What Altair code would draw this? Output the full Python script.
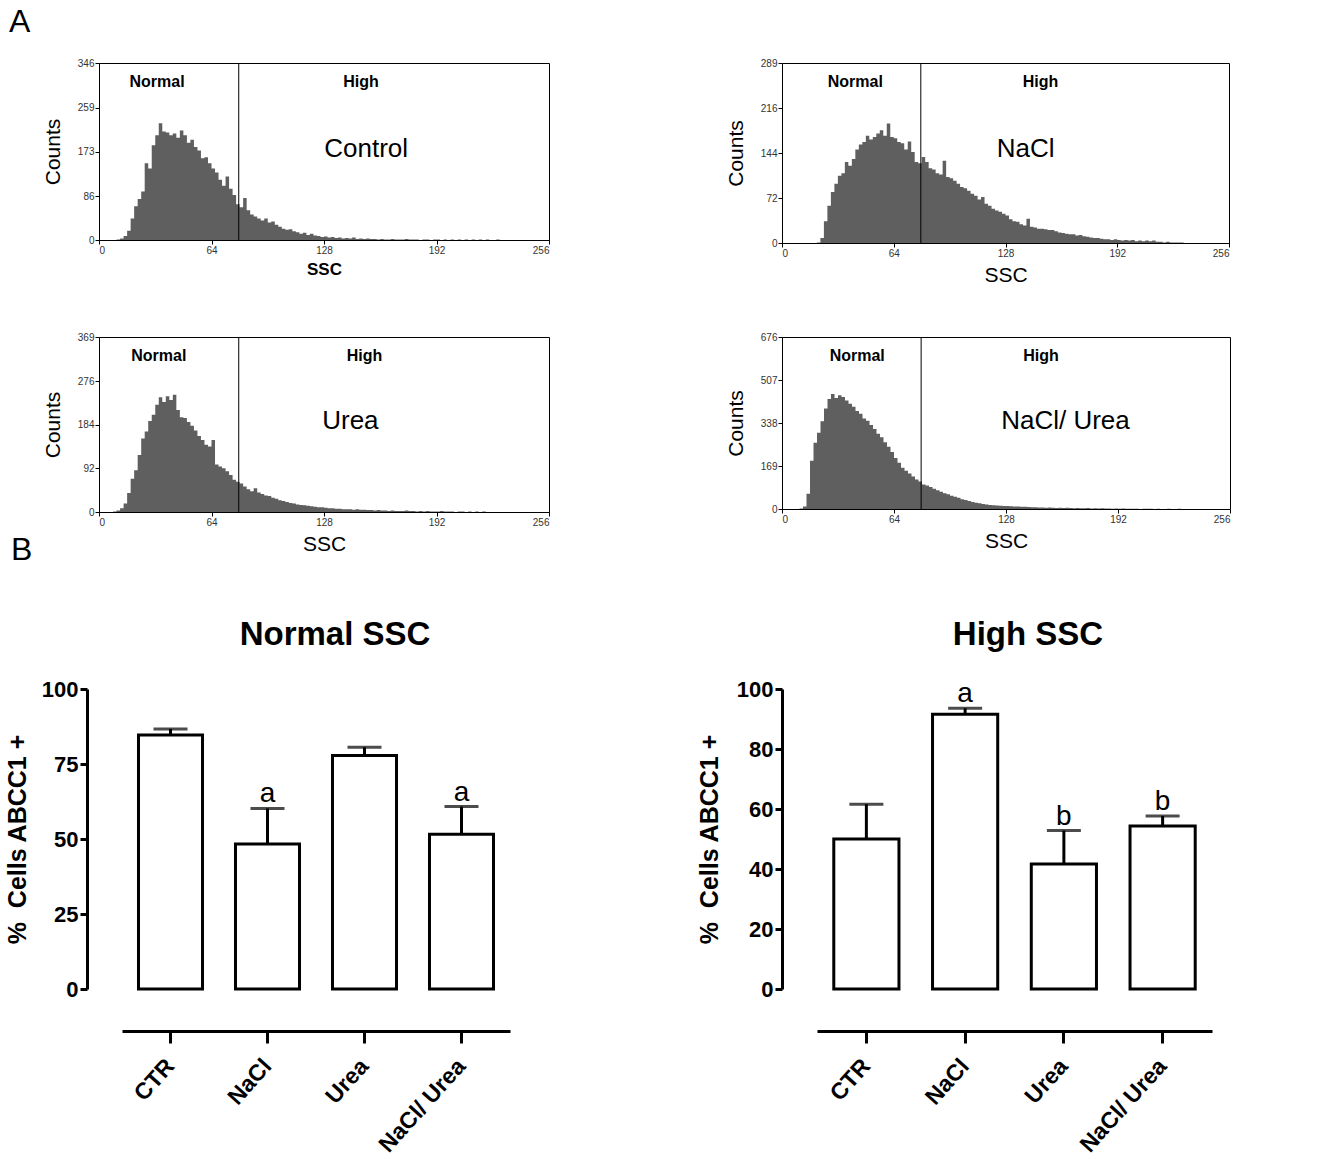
import altair as alt
import pandas as pd

FONT = "Liberation Sans"
HIST_FILL = "#5f5f5f"

# ---------------------------------------------------------------- histograms
# Flow-cytometry side-scatter histograms, counts per 2-channel bin starting at SSC 0
BIN_WIDTH = 2
ssc_ticks = [0, 64, 128, 192, 256]
gate_ssc = 79.5

control_counts = [
    0, 0, 0, 0, 0, 1, 3, 8, 18, 42,
    66, 80, 95, 150, 140, 185, 205, 228, 212, 210,
    205, 208, 200, 214, 205, 190, 196, 182, 175, 160,
    162, 150, 140, 132, 118, 106, 124, 100, 88, 70,
    64, 82, 58, 50, 46, 42, 38, 42, 34, 36,
    30, 26, 22, 20, 21, 17, 15, 12, 14, 10,
    12, 9, 8, 6, 7, 5, 6, 4, 5, 3,
    4, 3, 5, 2, 3, 2, 3, 2, 2, 1,
    2, 1, 1, 2, 1, 1, 1, 2, 1, 1,
    1, 0, 1, 1, 0, 1, 1, 0, 1, 0,
    1, 0, 1, 0, 1, 0, 1, 0, 1, 0,
    1, 0, 0, 1, 0, 0,
]
nacl_counts = [
    0, 0, 0, 0, 0, 0, 0, 0, 0, 0,
    1, 8, 35, 60, 82, 95, 108, 112, 130, 124,
    135, 150, 158, 162, 172, 166, 170, 176, 181, 172,
    192, 170, 168, 162, 160, 150, 163, 146, 130, 128,
    138, 130, 120, 118, 112, 110, 132, 106, 104, 100,
    95, 90, 88, 84, 79, 76, 70, 74, 63, 60,
    55, 52, 50, 47, 44, 38, 35, 34, 30, 28,
    39, 26, 25, 23, 23, 22, 21, 21, 19, 17,
    16, 15, 14, 14, 12, 13, 11, 10, 9, 8,
    8, 7, 6, 6, 5, 6, 5, 4, 5, 4,
    5, 3, 4, 3, 4, 3, 4, 2, 2, 1,
    2, 1, 1, 1, 1, 0,
]
urea_counts = [
    0, 0, 0, 0, 1, 3, 8, 18, 40, 70,
    88, 120, 155, 170, 192, 205, 226, 242, 232, 244,
    236, 247, 215, 200, 198, 190, 182, 172, 160, 152,
    142, 138, 152, 100, 96, 92, 86, 78, 68, 64,
    60, 54, 48, 44, 50, 41, 38, 35, 34, 30,
    28, 25, 23, 21, 19, 18, 16, 15, 14, 13,
    12, 11, 10, 10, 9, 8, 8, 7, 7, 6,
    6, 6, 5, 6, 5, 5, 4, 4, 3, 4,
    3, 3, 2, 3, 2, 2, 2, 3, 2, 2,
    1, 2, 1, 2, 1, 1, 1, 2, 1, 1,
    1, 0, 1, 1, 0, 1, 0, 1, 0, 1,
    0,
]
nacl_urea_counts = [
    0, 0, 0, 0, 0, 2, 10, 60, 190, 260,
    300, 345, 395, 432, 452, 436, 447, 440, 426, 414,
    402, 385, 374, 356, 347, 330, 314, 296, 282, 262,
    245, 224, 200, 182, 162, 150, 140, 128, 116, 108,
    96, 92, 86, 80, 74, 68, 62, 58, 52, 48,
    44, 38, 35, 31, 28, 25, 23, 20, 18, 16,
    15, 14, 13, 12, 12, 11, 10, 10, 9, 9,
    8, 7, 7, 6, 6, 5, 6, 5, 4, 5,
    4, 5, 4, 3, 4, 3, 3, 4, 2, 3,
    2, 3, 2, 2, 1, 2, 1, 2, 1, 1,
    1, 1, 0, 1, 1, 1, 0, 1, 0, 0,
    1, 0, 0, 1, 0, 0,
]

control_yticks = [0, 86, 173, 259, 346]
nacl_yticks = [0, 72, 144, 216, 289]
urea_yticks = [0, 92, 184, 276, 369]
nacl_urea_yticks = [0, 169, 338, 507, 676]

region_names = ["Normal", "High"]

# ---------------------------------------------------------------- bar charts
groups = ["CTR", "NaCl", "Urea", "NaCl/ Urea"]
normal_mean = [84.7, 48.3, 77.8, 51.6]
normal_sem = [2.0, 11.9, 2.8, 9.2]
normal_letters = ["", "a", "", "a"]
high_mean = [50.0, 91.6, 41.7, 54.3]
high_sem = [11.6, 2.0, 11.1, 3.4]
high_letters = ["", "a", "b", "b"]
normal_yticks = [0, 25, 50, 75, 100]
high_yticks = [0, 20, 40, 60, 80, 100]

Y_TITLE = "%\u00a0 Cells ABCC1 +"


def hist_panel(counts, yticks, name, name_ssc, name_dy, region_ssc, width, height,
               ssc_bold=False, panel_letter=None):
    df = pd.DataFrame({"ssc": [i * BIN_WIDTH for i in range(len(counts))],
                       "count": counts})
    x_scale = alt.Scale(domain=[0, 256], nice=False, zero=True)
    x_axis = alt.Axis(
        values=ssc_ticks, format="d", grid=False,
        labelFont=FONT, labelFontSize=10, labelColor="#333333", labelPadding=1,
        tickSize=4, tickColor="black", domainColor="black",
        titleFont=FONT, titleColor="black",
        titleFontSize=17 if ssc_bold else 21,
        titleFontWeight="bold" if ssc_bold else "normal",
        titlePadding=6,
    )
    x_enc = alt.X("ssc:Q", scale=x_scale, axis=x_axis, title="SSC")
    y_axis = alt.Axis(
        values=yticks, format="d", grid=False,
        labelFont=FONT, labelFontSize=10, labelColor="#333333", labelPadding=1,
        tickSize=4, tickColor="black", domainColor="black",
        title="Counts", titleFont=FONT, titleFontSize=21, titleFontWeight="normal",
        titleColor="black", titlePadding=14,
    )
    area = alt.Chart(df).mark_area(interpolate="step-after", color=HIST_FILL).encode(
        x=x_enc,
        y=alt.Y("count:Q", scale=alt.Scale(domain=[0, yticks[-1]], nice=False), axis=y_axis),
    )
    gate = alt.Chart(pd.DataFrame({"ssc": [gate_ssc]})).mark_rule(
        color="black", strokeWidth=1
    ).encode(x=x_enc)
    regions = alt.Chart(pd.DataFrame({"ssc": region_ssc, "label": region_names})).mark_text(
        font=FONT, fontSize=16, fontWeight="bold", color="black",
        align="center", baseline="alphabetic",
    ).encode(x=x_enc, y=alt.value(24), text="label:N")
    label = alt.Chart(pd.DataFrame({"ssc": [name_ssc], "label": [name]})).mark_text(
        font=FONT, fontSize=26, color="black", align="center", baseline="alphabetic",
    ).encode(x=x_enc, y=alt.value(name_dy), text="label:N")
    layers = [area, gate, regions, label]
    if panel_letter is not None:
        layers.append(
            alt.Chart(pd.DataFrame({"t": [panel_letter]})).mark_text(
                font=FONT, fontSize=32, color="black", align="left", baseline="alphabetic"
            ).encode(x=alt.value(-90), y=alt.value(-31), text="t:N")
        )
    return alt.layer(*layers).properties(
        width=width, height=height,
        view=alt.ViewBackground(stroke="black", strokeWidth=1),
    )


def bar_panel(means, sems, letters, yticks, title, title_x, y_offset, x_range,
              ytitle_pad, panel_letter=None):
    df = pd.DataFrame({
        "group": groups,
        "mean": means,
        "top": [m + s for m, s in zip(means, sems)],
        "letter": letters,
    })
    x_scale = alt.Scale(range=x_range, paddingInner=0.34, paddingOuter=0.17)
    y_scale = alt.Scale(domain=[0, 100], range=[383, 83], nice=False)
    x = alt.X("group:N", sort=groups, scale=x_scale, axis=alt.Axis(
        title=None, labelAngle=-48, labelFont=FONT, labelFontSize=23,
        labelFontWeight="bold", labelColor="black", labelPadding=19,
        domainColor="black", domainWidth=3, tickColor="black", tickWidth=3,
        tickSize=12, offset=42,
    ))
    y = alt.Y("mean:Q", scale=y_scale, axis=alt.Axis(
        values=yticks, grid=False, offset=y_offset,
        labelFont=FONT, labelFontSize=22, labelFontWeight="bold", labelColor="black",
        labelPadding=2, domainColor="black", domainWidth=3,
        tickColor="black", tickWidth=3, tickSize=7,
        title=Y_TITLE, titleFont=FONT, titleFontSize=25,
        titleFontWeight="bold", titleColor="black", titlePadding=ytitle_pad,
    ))
    base = alt.Chart(df)
    bars = base.mark_bar(fill="white", stroke="black", strokeWidth=3).encode(x=x, y=y)
    err = base.mark_rule(color="black", strokeWidth=3).encode(x=x, y=y, y2="top:Q")
    cap = base.mark_tick(color="black", thickness=3, size=34).encode(
        x=x, y=alt.Y("top:Q", scale=y_scale, title=Y_TITLE),
    )
    marks = base.mark_text(
        font=FONT, fontSize=28, color="black", align="center",
        baseline="alphabetic", dy=-6,
    ).encode(
        x=x, y=alt.Y("top:Q", scale=y_scale, title=Y_TITLE), text="letter:N",
    )
    head = alt.Chart(pd.DataFrame({"t": [title]})).mark_text(
        font=FONT, fontSize=33, fontWeight="bold", color="black",
        align="center", baseline="alphabetic",
    ).encode(x=alt.value(title_x), y=alt.value(39), text="t:N")
    layers = [bars, err, cap, marks, head]
    if panel_letter is not None:
        layers.append(
            alt.Chart(pd.DataFrame({"t": [panel_letter]})).mark_text(
                font=FONT, fontSize=32, color="black", align="left", baseline="alphabetic"
            ).encode(x=alt.value(-88), y=alt.value(-46), text="t:N")
        )
    return alt.layer(*layers).properties(width=450, height=383)


control = hist_panel(control_counts, control_yticks, "Control", 152, 94, [33, 149],
                     450, 177, ssc_bold=True, panel_letter="A")
nacl = hist_panel(nacl_counts, nacl_yticks, "NaCl", 139.5, 94, [42, 148], 447, 180)
urea = hist_panel(urea_counts, urea_yticks, "Urea", 143, 92, [34, 151], 450, 175)
nacl_urea = hist_panel(nacl_urea_counts, nacl_urea_yticks, "NaCl/ Urea", 162, 92,
                       [43, 148], 448, 172)

normal_bars = bar_panel(normal_mean, normal_sem, normal_letters, normal_yticks,
                        "Normal SSC", 236, 12, [23, 411], 11, panel_letter="B")
high_bars = bar_panel(high_mean, high_sem, high_letters, high_yticks,
                      "High SSC", 246, 0, [35, 430], 14)

chart = alt.concat(
    control, nacl, urea, nacl_urea, normal_bars, high_bars,
    columns=2,
    spacing=alt.RowColnumber(row=94, column=233),
    bounds="flush",
).properties(
    padding={"left": 4, "top": 5, "right": 5, "bottom": 0},
    background="white",
).configure_view(stroke="transparent")

chart.save("out.html", embed_options={"renderer": "svg", "actions": False})
